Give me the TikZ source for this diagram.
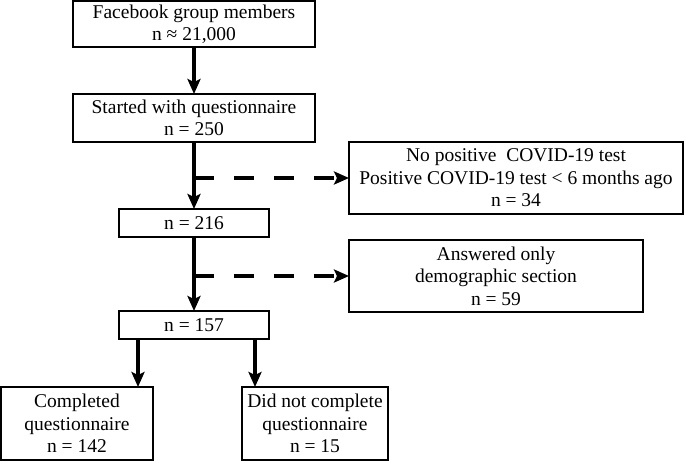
\documentclass[tikz,border=0pt]{standalone}
\usepackage{fontspec}
\setmainfont{Liberation Serif}
\usetikzlibrary{arrows.meta,positioning}

\begin{document}
\begin{tikzpicture}[x=1pt, y=-1pt, node distance=47pt, font=\fontsize{19.5}{22.5}\selectfont, box/.style={draw, line width=1.7pt, align=center, inner sep=0pt, outer sep=0pt}, arr/.style={-{Stealth[length=15pt, width=13pt, inset=3pt]}, line width=3.2pt}, dasharr/.style={arr, dash pattern=on 20pt off 20pt}]
    \useasboundingbox (0,0) rectangle (685,461);
    \node[box, minimum width=242pt, minimum height=46pt, anchor=north] (fb) at (194,1) {Facebook group members\\n ≈ 21,000};
    \node[box, minimum width=242pt, minimum height=48pt, below=of fb] (start) {Started with questionnaire\\n = 250};
    \node[box, minimum width=150pt, minimum height=28pt, below=67pt of start] (n216) {n = 216};
    \node[box, minimum width=150pt, minimum height=28pt, below=74pt of n216] (n157) {n = 157};
    \node[box, minimum width=334pt, minimum height=72pt, anchor=west] (excl1) at (349,178) {No positive\ \ COVID-19 test\\Positive COVID-19 test < 6 months ago\\n = 34};
    \node[box, minimum width=294pt, minimum height=72pt, anchor=west] (excl2) at (349,276) {Answered only\\demographic section\\n = 59};
    \node[box, minimum width=152pt, minimum height=73pt, anchor=north west] (done) at (1,387) {Completed\\questionnaire\\n = 142};
    \node[box, minimum width=146pt, minimum height=73pt, anchor=north west] (notdone) at (242,387) {Did not complete\\questionnaire\\n = 15};
    \draw[arr] (fb) -- (start);
    \draw[arr] (start) -- (n216);
    \draw[dasharr] (start.south |- excl1.west) -- (excl1);
    \draw[arr] (n216) -- (n157);
    \draw[dasharr] (n216.south |- excl2.west) -- (excl2);
    \draw[arr] ([xshift=-56pt]n157.south) -- ([xshift=-56pt]n157.south |- done.north);
    \draw[arr] ([xshift=61pt]n157.south) -- ([xshift=61pt]n157.south |- notdone.north);
  \end{tikzpicture}
\end{document}
